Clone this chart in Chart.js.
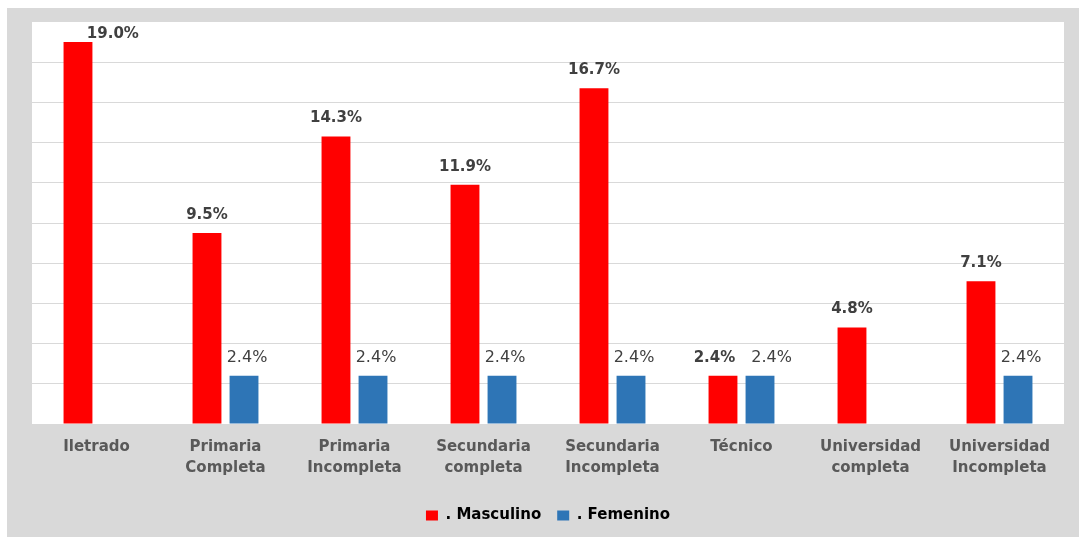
<!DOCTYPE html>
<html>
<head>
<meta charset="utf-8">
<script src="https://cdn.jsdelivr.net/npm/chart.js@4.4.1/dist/chart.umd.min.js"></script>
<style>
  html, body { margin: 0; padding: 0; background: #fff; }
  #box { position: absolute; left: 7px; top: 8px; width: 1072px; height: 529px; background: #d9d9d9; }
</style>
</head>
<body>
<div id="box"><canvas id="chart"></canvas></div>
<script>
const categories = [
  'Iletrado',
  ['Primaria', 'Completa'],
  ['Primaria', 'Incompleta'],
  ['Secundaria', 'completa'],
  ['Secundaria', 'Incompleta'],
  'Técnico',
  ['Universidad', 'completa'],
  ['Universidad', 'Incompleta']
];
const masculino = [19.0, 9.5, 14.3, 11.9, 16.7, 2.4, 4.8, 7.1];
const femenino = [null, 2.4, 2.4, 2.4, 2.4, 2.4, null, 2.4];
const seriesNames = ['. Masculino', '. Femenino'];
const yTicks = { min: 0, max: 20, step: 2 };

const font = "'DejaVu Sans', Verdana, sans-serif";

// fondo blanco del área de trazado
const plotBg = {
  id: 'plotBg',
  beforeDraw(chart) {
    const { ctx, chartArea: a } = chart;
    ctx.save();
    ctx.fillStyle = '#ffffff';
    ctx.fillRect(a.left, a.top, a.right - a.left, a.bottom - a.top);
    ctx.restore();
  }
};

// etiquetas de valor encima de cada barra
const valueLabels = {
  id: 'valueLabels',
  afterDatasetsDraw(chart) {
    const { ctx, chartArea } = chart;
    const fonts = ['bold 15px ' + font, '16px ' + font];
    const items = [];
    chart.data.datasets.forEach((ds, i) => {
      const meta = chart.getDatasetMeta(i);
      meta.data.forEach((bar, j) => {
        const v = ds.data[j];
        if (v == null) return;
        const text = v.toFixed(1) + '%';
        ctx.font = fonts[i];
        const w = ctx.measureText(text).width;
        let x = bar.x + (i === 1 ? 3 : 0);
        let y = bar.y - 18;
        if (y - 14 < chartArea.top) {
          // no cabe encima: se corre a la derecha
          x = bar.x + bar.width + 6;
          y = bar.y - 8;
        }
        items[j] = items[j] || [];
        items[j][i] = { text, x, y, w, f: fonts[i] };
      });
    });
    ctx.save();
    ctx.textAlign = 'center';
    ctx.fillStyle = '#404040';
    items.forEach(pair => {
      if (!pair) return;
      const [a, b] = pair;
      // si las dos etiquetas chocan se separan
      if (a && b && Math.abs(a.y - b.y) < 18) {
        const gap = (b.x - b.w / 2) - (a.x + a.w / 2);
        if (gap < 16) {
          const d = (16 - gap) / 2;
          a.x -= d;
          b.x += d;
        }
      }
      [a, b].forEach(it => {
        if (!it) return;
        ctx.font = it.f;
        ctx.fillText(it.text, it.x, it.y);
      });
    });
    ctx.restore();
  }
};

new Chart(document.getElementById('chart'), {
  type: 'bar',
  data: {
    labels: categories,
    datasets: [
      { label: seriesNames[0], data: masculino, backgroundColor: '#ff0000', borderWidth: 0 },
      { label: seriesNames[1], data: femenino, backgroundColor: '#2e75b6', borderWidth: 0 }
    ]
  },
  options: {
    responsive: true,
    maintainAspectRatio: false,
    animation: false,
    categoryPercentage: 0.574,
    barPercentage: 0.78,
    layout: { padding: { left: 25, right: 15, top: 14, bottom: 4 } },
    plugins: {
      legend: {
        position: 'bottom',
        labels: {
          boxWidth: 12,
          boxHeight: 10,
          padding: 16,
          color: '#000000',
          font: { family: font, size: 15, weight: 'bold' }
        }
      },
      tooltip: { enabled: false }
    },
    scales: {
      x: {
        grid: { display: false },
        border: { display: false },
        ticks: {
          color: '#595959',
          padding: 5,
          maxRotation: 0,
          autoSkip: false,
          font: { family: font, size: 15, weight: 'bold', lineHeight: 1.4 }
        },
        afterFit(scale) { scale.height += 8; }
      },
      y: {
        min: yTicks.min,
        max: yTicks.max,
        border: { display: false },
        grid: {
          drawTicks: false,
          color: c => (c.tick.value === yTicks.max || c.tick.value === 0) ? 'rgba(0,0,0,0)' : '#d9d9d9'
        },
        ticks: { display: false, stepSize: yTicks.step },
        afterFit(scale) { scale.width = 0; }
      }
    }
  },
  plugins: [plotBg, valueLabels]
});
</script>
</body>
</html>
